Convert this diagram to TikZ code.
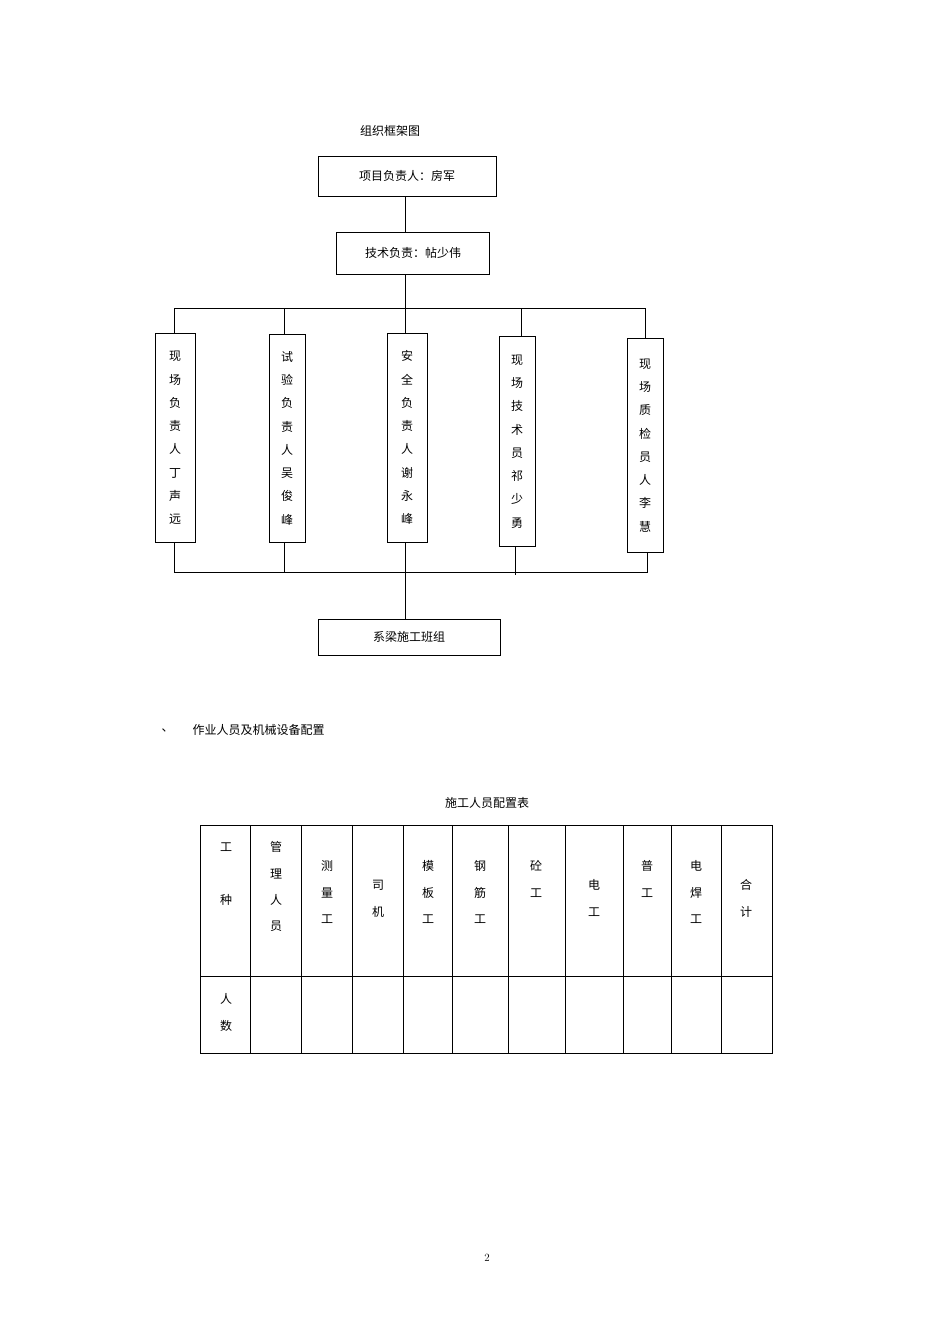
\documentclass[tikz,border=0pt]{standalone}
\usepackage{fontspec}
\newfontfamily\cjk{Noto Sans CJK SC}
\begin{document}
\begin{tikzpicture}[x=1pt,y=-1pt,font=\cjk\fontsize{12}{15}\selectfont,
  box/.style={draw,line width=0.8pt,inner sep=0pt},
  vbox/.style={box,minimum width=36pt,align=center},
  ln/.style={line width=0.8pt}]
\useasboundingbox (0,0) rectangle (950,1344);
\node at (390,131) {组织框架图};
\node[box,minimum width=178pt,minimum height=40pt] (a) at (407,176) {项目负责人：房军};
\node[box,minimum width=153pt,minimum height=42pt] (b) at (413,253) {技术负责：帖少伟};
\def\vt#1{\begin{tabular}{@{}c@{}}#1\end{tabular}}
\renewcommand{\arraystretch}{1.55}
\node[vbox,minimum width=40pt,minimum height=209pt] (c1) at (175,437.5) {\vt{现\\场\\负\\责\\人\\丁\\声\\远}};
\node[vbox,minimum height=208pt] (c2) at (287,438) {\vt{试\\验\\负\\责\\人\\吴\\俊\\峰}};
\node[vbox,minimum width=40pt,minimum height=209pt] (c3) at (407,437.5) {\vt{安\\全\\负\\责\\人\\谢\\永\\峰}};
\node[vbox,minimum height=210pt] (c4) at (517,441) {\vt{现\\场\\技\\术\\员\\祁\\少\\勇}};
\node[vbox,minimum height=214pt] (c5) at (645,445) {\vt{现\\场\\质\\检\\员\\人\\李\\慧}};
\node[box,minimum width=182pt,minimum height=36pt] (d) at (409,637) {系梁施工班组};
\coordinate (t) at (405,308);
\coordinate (bt) at (405,572);
\draw[ln] (405,196) -- (405,232);
\draw[ln] (405,274) -- (t);
\draw[ln] (174,308) -- (645,308);
\draw[ln] (174,308) -- (c1.north -| 174,0);
\draw[ln] (284,308) -- (284,334);
\draw[ln] (t) -- (405,333);
\draw[ln] (521,308) -- (521,336);
\draw[ln] (645,308) -- (645,338);
\draw[ln] (174,542) -- (174,572) -- (647,572) -- (647,552);
\draw[ln] (284,542) -- (284,572);
\draw[ln] (405,542) -- (d.north -| 405,0);
\draw[ln] (515,546) -- (515,575);
\node[anchor=west] at (158,730) {、};
\node[anchor=west] at (189,730) {作业人员及机械设备配置};
\node at (487,803) {施工人员配置表};
% table
\def\xs{200,250,301,352,403,452,508,565,623,671,721,772}
\draw[line width=1pt] (200,825) rectangle (772,1053);
\draw[line width=1pt] (200,976) -- (772,976);
\foreach \x in {250,301,352,403,452,508,565,623,671,721} \draw[line width=1pt] (\x,825) -- (\x,1053);
\renewcommand{\arraystretch}{1.75}
\node[anchor=north] at (226,830) {\vt{工\\\\种}};
\node[anchor=north] at (276,830) {\vt{管\\理\\人\\员}};
\node[anchor=north] at (327,849) {\vt{测\\量\\工}};
\node[anchor=north] at (378,868) {\vt{司\\机}};
\node[anchor=north] at (428,849) {\vt{模\\板\\工}};
\node[anchor=north] at (480,849) {\vt{钢\\筋\\工}};
\node[anchor=north] at (536,849) {\vt{砼\\工}};
\node[anchor=north] at (594,868) {\vt{电\\工}};
\node[anchor=north] at (647,849) {\vt{普\\工}};
\node[anchor=north] at (696,849) {\vt{电\\焊\\工}};
\node[anchor=north] at (746,868) {\vt{合\\计}};
\node[anchor=north] at (226,982) {\vt{人\\数}};
\node[font=\fontsize{11}{13}\selectfont] at (487,1258) {2};
\end{tikzpicture}
\end{document}
